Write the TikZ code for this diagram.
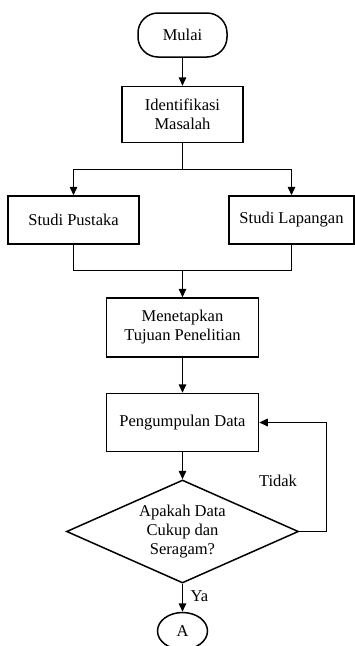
\documentclass[tikz,border=0pt]{standalone}
\usepackage{fontspec}
\setmainfont{Liberation Serif}
\usetikzlibrary{arrows.meta,positioning,shapes.geometric}

\begin{document}
\begin{tikzpicture}[
      node distance=28pt,
      font=\fontsize{16.5}{19}\selectfont,
      proses/.style={draw,line width=1.5pt,align=center,inner sep=2pt},
      terminal/.style={draw,line width=1.5pt,rounded corners=20pt,
        minimum width=89pt,minimum height=44pt},
      keputusan/.style={draw,diamond,line width=1.5pt,aspect=2.25,
        inner sep=1pt,minimum width=232pt,minimum height=103pt,align=center},
      konektor/.style={draw,ellipse,line width=1.5pt,
        minimum width=50pt,minimum height=37pt,inner sep=0pt},
      garis/.style={line width=1.5pt},
      arr/.style={garis,-{Triangle[length=8.5pt,width=7.5pt]}}
    ]
      \useasboundingbox (0,0) rectangle (355pt,-646pt);

      \node[terminal](mulai) at (182.5pt,-35pt){Mulai};
      \node[proses,minimum width=121pt,minimum height=56pt,
        below=of mulai](idf){Identifikasi\\Masalah};
      \coordinate[below=26pt of idf](cabang);
      \node[proses,minimum width=131pt,minimum height=48pt,
        below=52pt of idf,xshift=-109pt](pustaka){Studi Pustaka};
      \node[proses,minimum width=125pt,minimum height=48pt,
        below=52pt of idf,xshift=109pt](lapangan){Studi Lapangan};
      \node[proses,minimum width=152pt,minimum height=59pt,
        below=154pt of idf](tujuan){Menetapkan\\Tujuan Penelitian};
      \coordinate[above=27pt of tujuan](gabung);
      \node[proses,minimum width=152pt,minimum height=58pt,
        below=35pt of tujuan](kumpul){Pengumpulan Data};
      \node[keputusan,below=27pt of kumpul](cek){Apakah Data\\Cukup dan\\Seragam?};
      \node[konektor,below=28pt of cek](a){A};
      \coordinate[right=27pt of cek.east](balik);

      \draw[arr](mulai)--(idf);
      \draw[garis](idf)--(cabang);
      \draw[arr](cabang)-|(pustaka);
      \draw[arr](cabang)-|(lapangan);
      \draw[garis](pustaka)|-(gabung)-|(lapangan);
      \draw[arr](gabung)--(tujuan);
      \draw[arr](tujuan)--(kumpul);
      \draw[arr](kumpul)--(cek);
      \draw[arr](cek)--node[pos=0.45,right=4pt]{Ya}(a);
      \draw[arr](cek.east)--(balik)|-(kumpul.east);
      \node(tidak) at (278pt,-481pt){Tidak};
    \end{tikzpicture}
\end{document}
